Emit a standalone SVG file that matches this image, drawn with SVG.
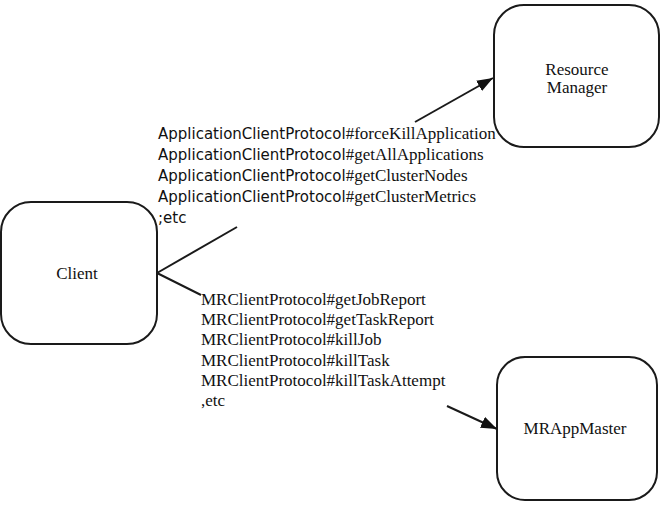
<svg xmlns="http://www.w3.org/2000/svg" width="666" height="510" viewBox="0 0 666 510">
  <style>
    .box { fill: #ffffff; stroke: #1a1a1a; stroke-width: 2; }
    .lbl { font-family: "Liberation Serif", "Times New Roman", serif; font-size: 17px; fill: #111111; }
    .sans { font-family: "DejaVu Sans", "Liberation Sans", sans-serif; font-size: 15px; }
    .serif { font-family: "Liberation Serif", "Times New Roman", serif; font-size: 17px; }
    .conn { stroke: #1a1a1a; stroke-width: 2; fill: none; }
  </style>
  <defs>
    <marker id="arrow" markerUnits="userSpaceOnUse" markerWidth="17" markerHeight="13" refX="16" refY="6" orient="auto">
      <path d="M0,0 L16,6 L0,12 z" fill="#111111"/>
    </marker>
  </defs>
  <rect width="666" height="510" fill="#ffffff"/>

  <g id="client">
    <rect class="box" x="1" y="202" width="156" height="142" rx="30" ry="30"/>
    <text class="lbl" x="77" y="279" text-anchor="middle">Client</text>
  </g>

  <g id="resource-manager">
    <rect class="box" x="494" y="5" width="165" height="142" rx="30" ry="30"/>
    <text class="lbl" x="577" y="75" text-anchor="middle">Resource</text>
    <text class="lbl" x="577" y="93" text-anchor="middle">Manager</text>
  </g>

  <g id="mrappmaster">
    <rect class="box" x="497" y="357" width="160" height="143" rx="28" ry="28"/>
    <text class="lbl" x="575" y="434" text-anchor="middle">MRAppMaster</text>
  </g>

  <g id="connectors">
    <line class="conn" x1="157" y1="273" x2="237" y2="227"/>
    <line class="conn" x1="157" y1="273" x2="201" y2="295"/>
    <line class="conn" x1="415" y1="122" x2="493" y2="78" marker-end="url(#arrow)"/>
    <line class="conn" x1="447" y1="406" x2="497" y2="429" marker-end="url(#arrow)"/>
  </g>

  <g id="rm-labels" fill="#111111">
    <text x="158" y="139"><tspan class="sans">ApplicationClientProtocol</tspan><tspan class="serif">#forceKillApplication</tspan></text>
    <text x="158" y="160"><tspan class="sans">ApplicationClientProtocol</tspan><tspan class="serif">#getAllApplications</tspan></text>
    <text x="158" y="181"><tspan class="sans">ApplicationClientProtocol</tspan><tspan class="serif">#getClusterNodes</tspan></text>
    <text x="158" y="202"><tspan class="sans">ApplicationClientProtocol</tspan><tspan class="serif">#getClusterMetrics</tspan></text>
    <text x="158" y="223" class="sans">;etc</text>
  </g>

  <g id="am-labels">
    <text class="lbl" x="201" y="305">MRClientProtocol#getJobReport</text>
    <text class="lbl" x="201" y="325">MRClientProtocol#getTaskReport</text>
    <text class="lbl" x="201" y="345">MRClientProtocol#killJob</text>
    <text class="lbl" x="201" y="366">MRClientProtocol#killTask</text>
    <text class="lbl" x="201" y="386">MRClientProtocol#killTaskAttempt</text>
    <text class="lbl" x="201" y="406">,etc</text>
  </g>
</svg>
